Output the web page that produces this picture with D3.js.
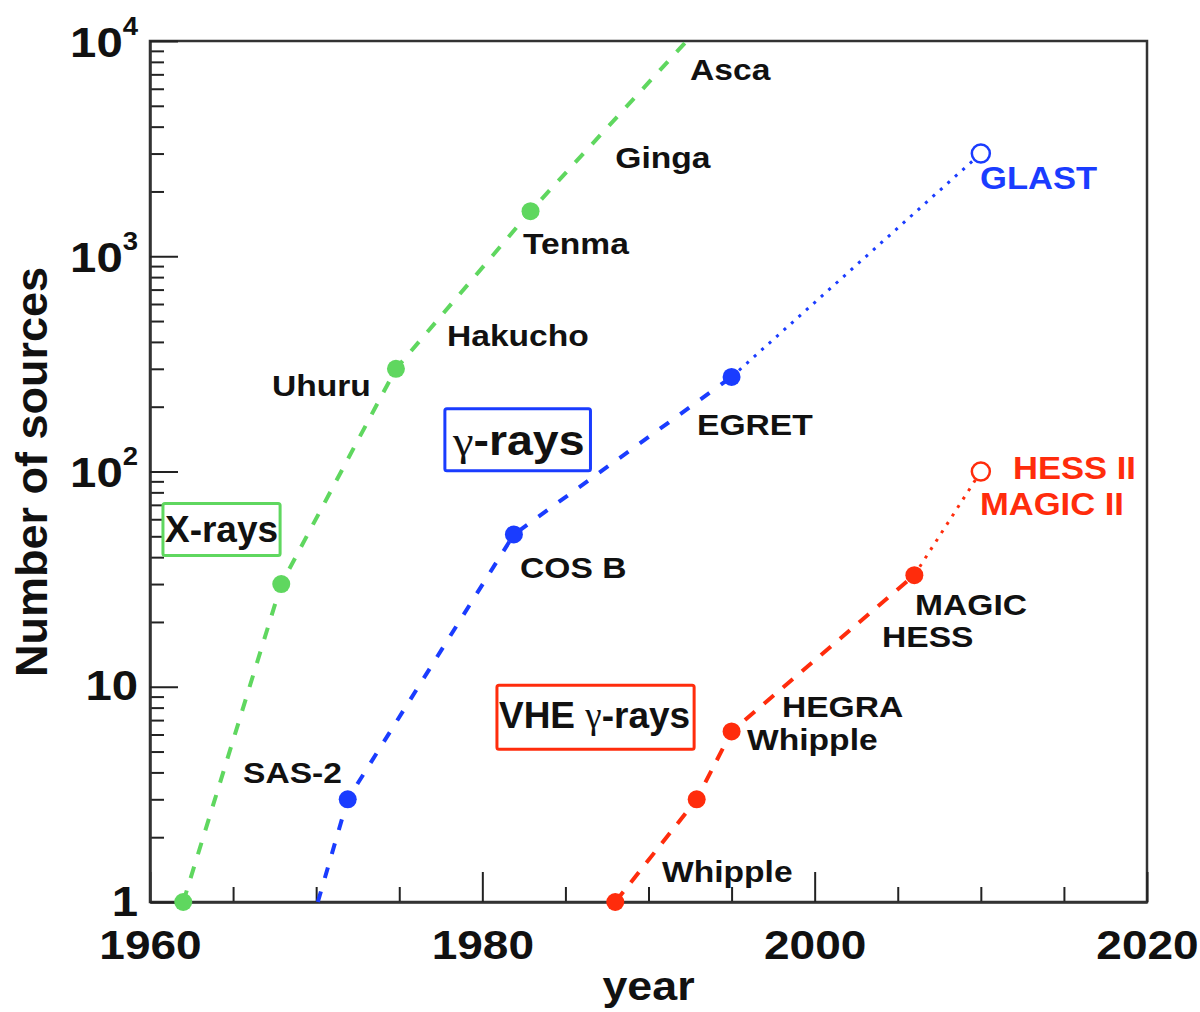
<!DOCTYPE html>
<html>
<head>
<meta charset="utf-8">
<script src="https://cdn.jsdelivr.net/npm/d3@7"></script>
<style>
  body { margin: 0; background: #fff; }
  svg { font-family: "Liberation Sans", Arial, Helvetica, sans-serif; }
</style>
</head>
<body>
<div id="chart"></div>
<script>
// ---- data (year, number of sources) ----
const xrayYears = [1962, 1967.9, 1974.8, 1982.9]
const xrayCounts = [1, 30, 300, 1620]
const xrayLineYears = [1962, 1967.9, 1974.8, 1982.9, 1992.3]
const xrayLineCounts = [1, 30, 300, 1620, 10000]

const gammaYears = [1971.9, 1981.9, 1995.0]
const gammaCounts = [3, 51, 275]
const gammaLineYears = [1970.1, 1971.9, 1981.9, 1995.0]
const gammaLineCounts = [1, 3, 51, 275]
const gammaFutureYears = [1995.0, 2010]
const gammaFutureCounts = [275, 3000]

const vheYears = [1988, 1992.9, 1995, 2006]
const vheCounts = [1, 3, 6.2, 33]
const vheFutureYears = [2006, 2010]
const vheFutureCounts = [33, 100]

const xTicks = [1960, 1980, 2000, 2020]
const xMinorTicks = [1965, 1970, 1975, 1985, 1990, 1995, 2005, 2010, 2015]
const yTicks = [1, 10, 100, 1000, 10000]

// annotation text, anchored at (year, count)
const labelNames = ['Asca', 'Ginga', 'Tenma', 'Hakucho', 'Uhuru', 'SAS-2', 'COS B', 'EGRET',
  'HEGRA', 'Whipple', 'Whipple', 'MAGIC', 'HESS']
const labelYears = [1992.5, 1988.0, 1982.45, 1977.87, 1967.34, 1965.6, 1982.27, 1992.92,
  1998.03, 1995.93, 1990.81, 2006.04, 2004.05]
const labelCounts = [6590, 2575, 1027, 384, 225, 3.57, 31.9, 147,
  7.22, 5.08, 1.238, 21.5, 15.25]

const futureNames = ['GLAST', 'HESS II', 'MAGIC II']
const futureYears = [2009.95, 2011.94, 2009.95]
const futureCounts = [2056, 91.8, 62.5]

const boxNames = ['X-rays', 'γ-rays', 'VHE γ-rays']
const boxYears = [1960.9, 1978.23, 1981.0]
const boxCounts = [46.8, 119, 6.42]

const green = '#5fd75f'
const blue = '#1a3cff'
const red = '#ff2c0c'

let width = 1200
let height = 1012
let plot = { left: 150, top: 41, right: 1147, bottom: 902 }

let svg = d3
  .select('#chart')
  .append('svg')
  .attr('width', width)
  .attr('height', height)

let x = d3.scaleLinear().domain([1960, 2020]).range([plot.left, plot.right])
let y = d3.scaleLog().domain([1, 10000]).range([plot.bottom, plot.top])

// frame
svg.append('rect')
  .attr('x', plot.left)
  .attr('y', plot.top)
  .attr('width', plot.right - plot.left)
  .attr('height', plot.bottom - plot.top)
  .attr('fill', 'none')
  .attr('stroke', '#333')
  .attr('stroke-width', 2.5)

// x axis: major + minor ticks pointing inward
svg.append('g')
  .attr('transform', `translate(0,${plot.bottom})`)
  .call(d3.axisBottom(x).tickValues(xMinorTicks).tickSize(-15).tickSizeOuter(0).tickFormat(''))
  .call(g => g.select('.domain').remove())
  .call(g => g.selectAll('line').attr('stroke', '#222').attr('stroke-width', 2))

svg.append('g')
  .attr('transform', `translate(0,${plot.bottom})`)
  .call(d3.axisBottom(x).tickValues(xTicks).tickSize(-30).tickSizeOuter(0).tickFormat(d3.format('d')))
  .call(g => g.select('.domain').attr('stroke', '#333').attr('stroke-width', 2.5))
  .call(g => g.selectAll('line').attr('stroke', '#222').attr('stroke-width', 2))
  .call(g => g.selectAll('text')
    .attr('y', 0).attr('dy', 0)
    .attr('transform', 'translate(0,57) scale(1.15,1)')
    .attr('font-size', 40)
    .attr('font-weight', 'bold')
    .attr('font-family', '"Liberation Sans", Arial, sans-serif')
    .attr('fill', '#111'))

// y axis: log decades + minor ticks
let yMinor = []
for (let k = 0; k < 4; k++) {
  for (let m = 2; m < 10; m++) yMinor.push(m * Math.pow(10, k))
}

svg.append('g')
  .attr('transform', `translate(${plot.left},0)`)
  .call(d3.axisLeft(y).tickValues(yMinor).tickSize(-14).tickSizeOuter(0).tickFormat(''))
  .call(g => g.select('.domain').remove())
  .call(g => g.selectAll('line').attr('stroke', '#222').attr('stroke-width', 2))

svg.append('g')
  .attr('transform', `translate(${plot.left},0)`)
  .call(d3.axisLeft(y).tickValues(yTicks).tickSize(-28).tickSizeOuter(0))
  .call(g => g.select('.domain').attr('stroke', '#333').attr('stroke-width', 2.5))
  .call(g => g.selectAll('line').attr('stroke', '#222').attr('stroke-width', 2))
  .call(g => g.selectAll('text').each(function(d) {
    let t = d3.select(this)
      .text(null)
      .attr('x', 0).attr('dy', 0)
      .attr('transform', `translate(-12,${d < 100 ? 13 : 15}) scale(1.1,1)`)
      .attr('font-size', 43)
      .attr('font-weight', 'bold')
      .attr('font-family', '"Liberation Sans", Arial, sans-serif')
      .attr('fill', '#111')
    if (d < 100) {
      t.text(d)
    } else {
      t.append('tspan').text('10')
      t.append('tspan').attr('font-size', 25).attr('dy', -22).text(Math.round(Math.log10(d)))
    }
  }))

// axis titles
svg.append('text')
  .attr('transform', `translate(${(plot.left + plot.right) / 2},1000) scale(1.12,1)`)
  .attr('text-anchor', 'middle')
  .attr('font-size', 40)
  .attr('font-weight', 'bold')
  .attr('fill', '#111')
  .text('year')

svg.append('text')
  .attr('transform', 'translate(47,472) rotate(-90)')
  .attr('text-anchor', 'middle')
  .attr('font-size', 45)
  .attr('font-weight', 'bold')
  .attr('fill', '#111')
  .text('Number of sources')

// lines (straight segments between measured points)
let line = d3.line()
  .x(d => x(d[0]))
  .y(d => y(d[1]))

function drawLine(years, counts, color, dash, w) {
  svg.append('path')
    .datum(d3.zip(years, counts))
    .attr('d', line)
    .attr('fill', 'none')
    .attr('stroke', color)
    .attr('stroke-width', w)
    .attr('stroke-dasharray', dash)
}

drawLine(xrayLineYears, xrayLineCounts, green, '12,13', 4)
drawLine(gammaLineYears, gammaLineCounts, blue, '11,14', 4)
drawLine(gammaFutureYears, gammaFutureCounts, blue, '3,7', 3)
drawLine(vheYears, vheCounts, red, '13,12', 4)
drawLine(vheFutureYears, vheFutureCounts, red, '3,7', 3)

// markers
function drawPoints(years, counts, color, open) {
  svg.append('g')
    .selectAll('circle')
    .data(d3.zip(years, counts))
    .enter()
    .append('circle')
    .attr('cx', d => x(d[0]))
    .attr('cy', d => y(d[1]))
    .attr('r', 9)
    .attr('fill', open ? '#fff' : color)
    .attr('stroke', color)
    .attr('stroke-width', open ? 2.5 : 0)
}

drawPoints(xrayYears, xrayCounts, green, false)
drawPoints(gammaYears, gammaCounts, blue, false)
drawPoints(vheYears, vheCounts, red, false)
drawPoints(gammaFutureYears.slice(1), gammaFutureCounts.slice(1), blue, true)
drawPoints(vheFutureYears.slice(1), vheFutureCounts.slice(1), red, true)

// text labels
function addLabel(name, year, count, size, sx, color) {
  let g = svg.append('g').attr('transform', `translate(${x(year)},${y(count)})`)
  let t = g.append('text')
    .attr('transform', `scale(${sx},1)`)
    .attr('font-size', size)
    .attr('font-weight', 'bold')
    .attr('fill', color)
  name.split(/(γ)/).filter(s => s).forEach(s => {
    let ts = t.append('tspan').text(s)
    if (s === 'γ') {
      ts.attr('font-family', '"Liberation Serif", "DejaVu Serif", serif').attr('font-weight', 'normal')
    }
  })
  return g
}

labelNames.forEach((n, i) => addLabel(n, labelYears[i], labelCounts[i], 30, 1.12, '#111'))

let futureColors = [blue, red, red]
futureNames.forEach((n, i) => addLabel(n, futureYears[i], futureCounts[i], 32, 1.08, futureColors[i]))

let boxColors = [green, blue, red]
let boxSizes = [37, 43, 37]
let boxStretch = [1.0, 1.08, 1.0]
let boxPad = [[2, 6, 2, 5], [7, 7, 6, 6], [2, 10, 4, 13]] // left, top, right, bottom
boxNames.forEach((n, i) => {
  let g = addLabel(n, boxYears[i], boxCounts[i], boxSizes[i], boxStretch[i], '#111')
  let bb = g.node().getBBox()
  let p = boxPad[i]
  g.insert('rect', 'text')
    .attr('x', bb.x - p[0])
    .attr('y', bb.y - p[1])
    .attr('width', bb.width + p[0] + p[2])
    .attr('height', bb.height + p[1] + p[3])
    .attr('rx', 2)
    .attr('fill', 'none')
    .attr('stroke', boxColors[i])
    .attr('stroke-width', 3)
})
</script>
</body>
</html>
